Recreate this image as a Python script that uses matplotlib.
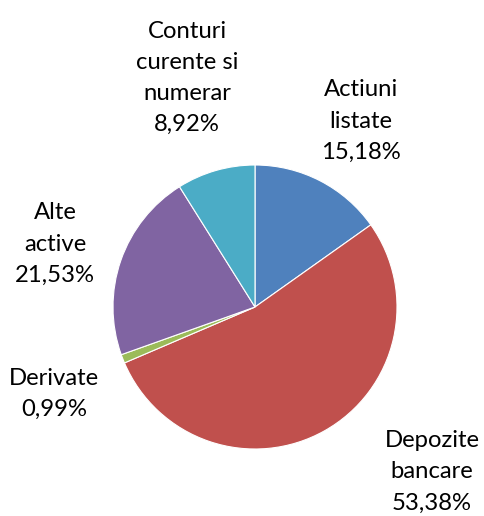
import matplotlib
matplotlib.use("Agg")
import matplotlib.pyplot as plt

categories = ["Actiuni\nlistate", "Depozite\nbancare", "Derivate", "Alte\nactive", "Conturi\ncurente si\nnumerar"]
values = [15.18, 53.38, 0.99, 21.53, 8.92]
colors = ["#4F81BD", "#C0504D", "#9BBB59", "#8064A2", "#4BACC6"]
label_px = [(361, 121), (432, 472), (54, 394), (55, 244), (187, 78)]

W, H = 485, 516
cx, cy, R = 255, 307, 142
fig = plt.figure(figsize=(W / 100, H / 100), dpi=100)
ax = fig.add_axes([0, 0, 1, 1])
ax.pie(values, colors=colors, startangle=90, counterclock=False, radius=1,
       wedgeprops=dict(edgecolor="white", linewidth=0.8))
ax.set_xlim(-cx / R, (W - cx) / R)
ax.set_ylim((cy - H) / R, cy / R)
ax.set_aspect("equal")
ax.axis("off")

for cat, v, (px, py) in zip(categories, values, label_px):
    txt = f"{cat}\n{v:.2f}%".replace(".", ",")
    ax.text((px - cx) / R, (cy - py) / R, txt, ha="center", va="center",
            fontsize=17.2, family=["Lato", "DejaVu Sans"], color="#000000",
            linespacing=1.6)

fig.savefig("out.png", dpi=100)
